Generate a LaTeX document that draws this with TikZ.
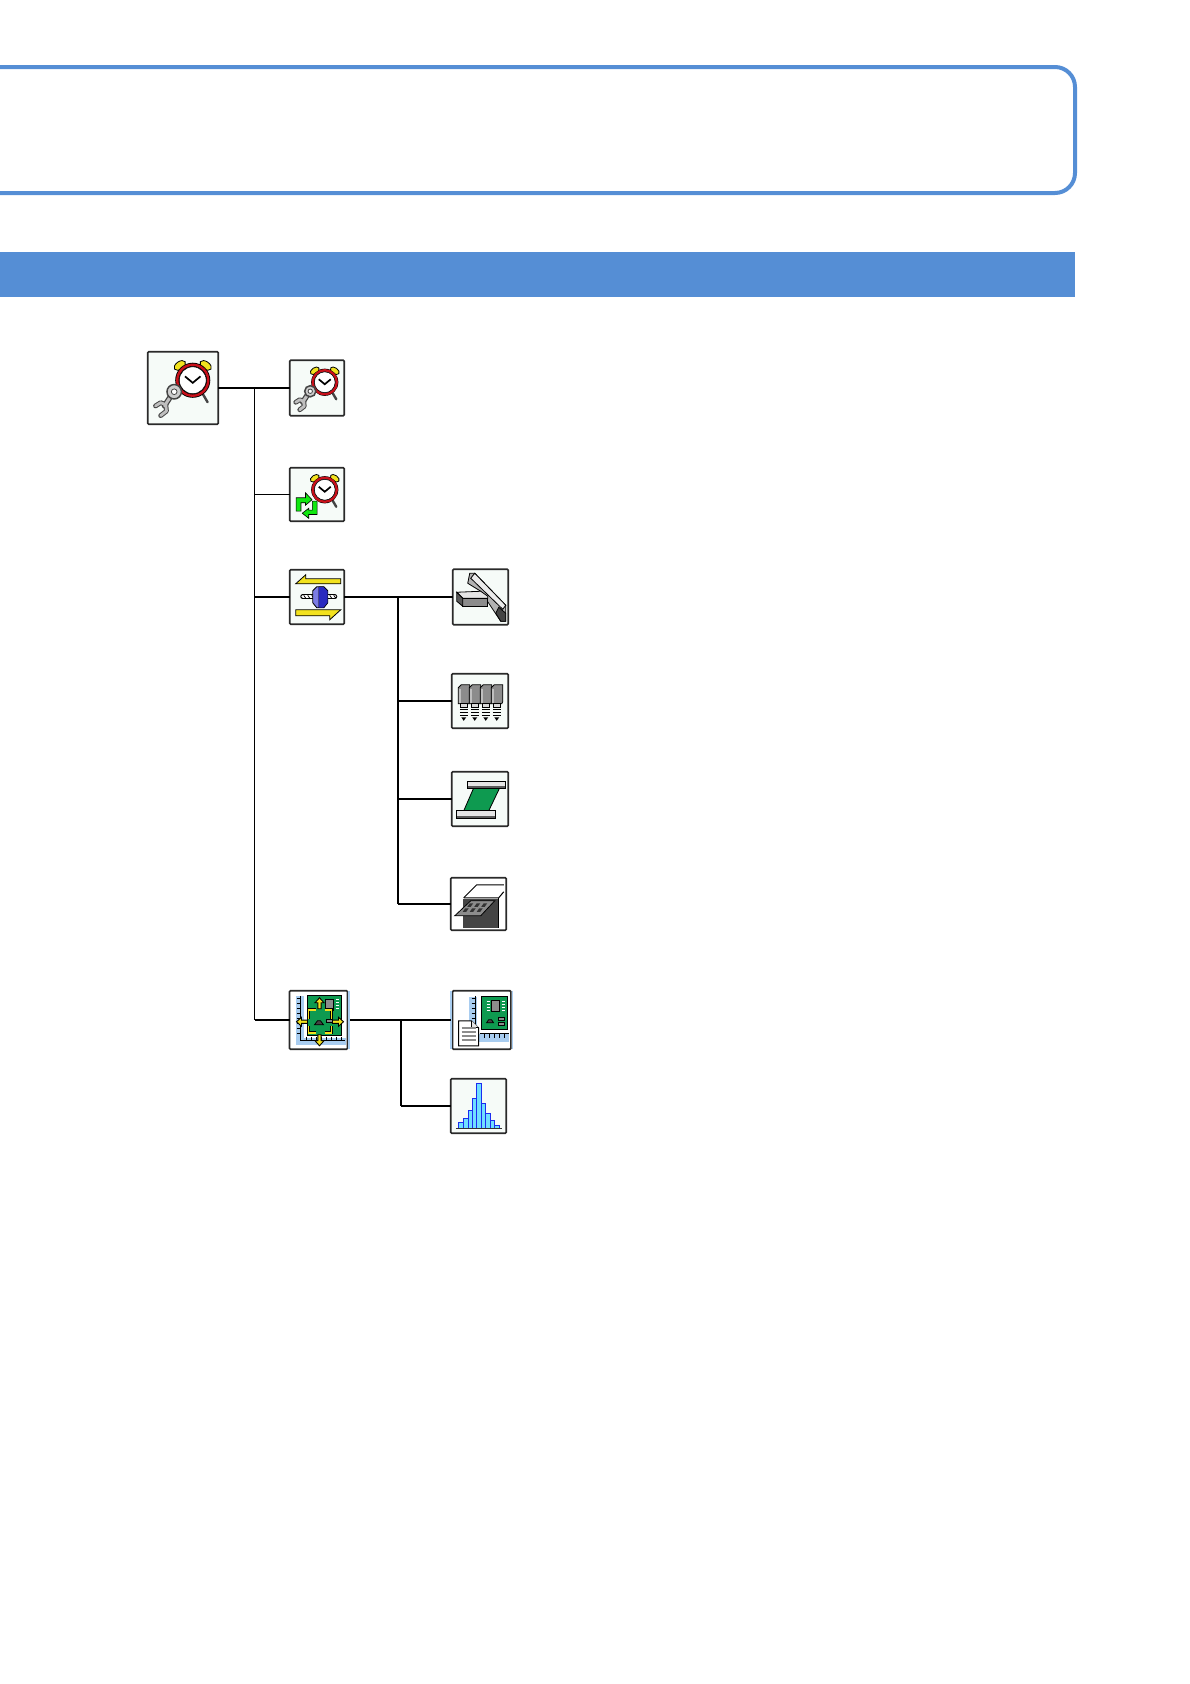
\documentclass[tikz,border=0pt]{standalone}
\usetikzlibrary{arrows.meta,positioning}
\definecolor{headblue}{HTML}{558ED5}
\definecolor{iconbg}{HTML}{F6FBF8}
\definecolor{iconedge}{HTML}{2A2A2A}
\definecolor{clockred}{HTML}{C8101A}
\definecolor{bellyellow}{HTML}{F2E21E}
\definecolor{arrowgreen}{HTML}{10E810}
\definecolor{boardgreen}{HTML}{0E9A50}
\definecolor{nutblue}{HTML}{2A2AC0}
\definecolor{nutlight}{HTML}{7C7CE4}
\definecolor{rulerblue}{HTML}{A9CDF0}
\definecolor{metalgray}{HTML}{8C8C8C}
\definecolor{darkmetal}{HTML}{444444}
\definecolor{barcyan}{HTML}{70DFFF}
\definecolor{barblue}{HTML}{1C2CF0}
\tikzset{
  iconbox/.style={draw=iconedge,fill=iconbg,line width=1.7pt,rounded corners=1pt,inner sep=0pt,outer sep=0pt},
  connline/.style={draw=black,line width=1.3pt},
  busline/.style={draw=black,line width=1.8pt},
  inkline/.style={draw=black,line width=0.8pt},
  alarmclock/.pic={
    \draw[inkline,fill=bellyellow,shift={(-10,-11.5)},rotate=35] (0,0) ellipse (5 and 3);
    \draw[inkline,fill=bellyellow,shift={(10,-11.5)},rotate=-35] (0,0) ellipse (5 and 3);
    \draw[darkmetal,line width=2.4pt,line cap=round] (8,11) -- (11.5,17);
    \fill[black] (0,0) circle[radius=13.6];
    \draw[clockred,line width=2.4pt] (0,0) circle[radius=12];
    \draw[black,fill=white,line width=0.5pt] (0,0) circle[radius=10.4];
    \draw[black,line width=1.7pt] (-6,-3) -- (0,2) -- (6,-3);
  },
  wrench/.pic={
    \draw[darkmetal,line width=4.8pt,line cap=round,line join=round] (6,42) -- (10,39.5) -- (14,41) -- (14.5,46) -- (10,49.5);
    \draw[darkmetal,line width=5.5pt,line cap=round] (20,31) -- (13,42);
    \draw[black!25,line width=2.8pt,line cap=round,line join=round] (6,42) -- (10,39.5) -- (14,41) -- (14.5,46) -- (10,49.5);
    \draw[black!25,line width=3pt,line cap=round] (20,31) -- (13,42);
    \draw[darkmetal,fill=black!20,line width=1.5pt] (20.5,31) circle[radius=5.6];
    \draw[darkmetal,fill=white,line width=0.8pt] (20.5,31) circle[radius=2.2];
  },
  spinarrows/.pic={
    \draw[black,fill=arrowgreen,line width=0.6pt] (1.3,18.3) -- (1.3,5) -- (10.7,5) -- (10.7,0) -- (17.3,7) -- (10.7,12.5) -- (10.7,10) -- (6.2,10) -- (6.2,18.3) -- cycle;
    \draw[black,fill=arrowgreen,line width=0.6pt] (22.3,8.3) -- (22.3,21.7) -- (14,21.7) -- (14,25.6) -- (7.5,20.5) -- (14,15.5) -- (14,17.3) -- (17.6,17.3) -- (17.6,8.3) -- cycle;
  },
  yellowtip/.pic={
    \draw[black,fill=bellyellow,line width=0.9pt] (-1.6,0) -- (-1.6,-6) -- (-4.5,-6) -- (0,-11) -- (4.5,-6) -- (1.6,-6) -- (1.6,0) -- cycle;
  },
  miniboard/.pic={
    \fill[boardgreen] (0,0) rectangle (26,33);
    \draw[inkline] (0,0) rectangle (26,33);
    \draw[inkline,fill=metalgray] (10,4) rectangle (18,15);
    \foreach \ypos in {5,8,11,14} {
      \draw[white,line width=0.8pt] (20,\ypos) -- (23,\ypos);
      \draw[white,line width=0.8pt] (5,\ypos) -- (8,\ypos);
    }
    \draw[inkline,fill=darkmetal] (5,26) -- (7,23) -- (10,23) -- (12,26) -- cycle;
    \draw[inkline,fill=metalgray] (17,21) rectangle (23,24);
    \draw[inkline,fill=metalgray] (17,26) rectangle (23,29);
  },
  cropmark/.style={draw=black,line width=3.2pt},
  cropfill/.style={draw=bellyellow,line width=1.8pt}
}
\begin{document}
\begin{tikzpicture}[x=1pt,y=-1pt]
  \useasboundingbox (0,0) rectangle (1190,1684);
  \draw[headblue,line width=4pt,rounded corners=20pt] (-30,67) rectangle (1075,193);
  \fill[headblue] (-5,252) rectangle (1075,297);

  \node[iconbox,minimum width=70.5pt,minimum height=72.5pt] (root) at (183,388) {};
  \node[iconbox,minimum width=54.5pt,minimum height=55.5pt] (clockset) at (317,388) {};
  \node[iconbox,minimum width=54.5pt,minimum height=53.5pt] (clockcycle) at (317,494.5) {};
  \node[iconbox,minimum width=54.5pt,minimum height=54.5pt] (exchange) at (317,597) {};
  \node[iconbox,minimum width=55.5pt,minimum height=55.5pt] (railunit) at (480.5,597) {};
  \node[iconbox,minimum width=56.5pt,minimum height=54.5pt] (nozzles) at (480,701) {};
  \node[iconbox,minimum width=56.5pt,minimum height=54.5pt] (stencil) at (480,799) {};
  \node[iconbox,fill=white,minimum width=55.5pt,minimum height=52.5pt] (tray) at (478.5,904) {};
  \node[iconbox,fill=white,minimum width=58pt,minimum height=58.5pt] (layout) at (318.5,1020) {};
  \node[iconbox,fill=white,minimum width=58.3pt,minimum height=58.5pt] (report) at (481.7,1020) {};
  \node[iconbox,minimum width=55.5pt,minimum height=54.5pt] (histogram) at (478.5,1106) {};
  \draw[rulerblue,line width=1.5pt] ([xshift=1.6pt]layout.north east) -- ([xshift=1.6pt]layout.south east);
  \draw[rulerblue,line width=1.5pt] ([xshift=-1.6pt]report.north west) -- ([xshift=-1.6pt]report.south west);
  \draw[rulerblue,line width=1.5pt] ([xshift=1.6pt]report.north east) -- ([xshift=1.6pt]report.south east);

  \coordinate (trunktop) at (254.5,388);
  \coordinate (trunkend) at (254.5,1020);
  \coordinate (bustop) at (398,597);
  \coordinate (busend) at (398,904);
  \coordinate (lowtop) at (401,1020);
  \coordinate (lowend) at (401,1106);
  \draw[connline,line width=1.7pt] (root) -- (clockset);
  \draw[connline] (trunktop) -- (trunkend);
  \draw[connline] (trunktop |- clockcycle) -- (clockcycle);
  \draw[connline,line width=1.1pt] (trunktop |- exchange) -- (exchange);
  \draw[connline] (trunkend) -- (layout);
  \draw[connline] (exchange) -- (bustop);
  \draw[connline,line width=1.1pt] (bustop) -- (railunit);
  \draw[busline] (bustop) -- (busend);
  \draw[connline] (bustop |- nozzles) -- (nozzles);
  \draw[connline] (bustop |- stencil) -- (stencil);
  \draw[connline] (busend) -- (tray);
  \draw[busline] ([xshift=2.5pt]layout.east) -- ([xshift=-2pt]report.west);
  \draw[connline] (lowtop) -- (lowend);
  \draw[connline] (lowend) -- (histogram);

  % clocks
  \begin{scope}[shift={(root.north west)}]
    \pic[scale=1.29] at (45,28.5) {alarmclock};
    \pic[scale=1.29] {wrench};
  \end{scope}
  \begin{scope}[shift={(clockset.north west)}]
    \pic at (35,22) {alarmclock};
    \pic {wrench};
  \end{scope}
  \begin{scope}[shift={(clockcycle.north west)}]
    \pic at (35,22) {alarmclock};
    \pic at (5,25) {spinarrows};
  \end{scope}

  % exchange
  \begin{scope}[shift={(exchange.north west)}]
    \draw[inkline,fill=bellyellow] (51,9) -- (51,14) -- (6,14) -- (16,5) -- (16,9) -- cycle;
    \draw[inkline,fill=bellyellow] (6,40) -- (40,40) -- (51,40) -- (40,50) -- (40,46) -- (6,46) -- cycle;
    \draw[black,line width=5pt,line cap=round] (13,27) -- (45,27);
    \draw[white,line width=3pt,line cap=round] (13,27) -- (45,27);
    \foreach \xpos in {14,18,22,36,40,44} \draw[black,line width=0.7pt] (\xpos,25.5) -- (\xpos+2,28.5);
    \draw[inkline,fill=nutlight] (23,21) -- (27,17) -- (34,17) -- (38,21) -- (38,33) -- (34,38) -- (27,38) -- (23,33) -- cycle;
    \draw[black,fill=nutblue,line width=0.4pt] (29,17) -- (34,17) -- (38,21) -- (38,33) -- (34,38) -- (29,38) -- cycle;
  \end{scope}

  % rail and block
  \begin{scope}[shift={(railunit.north west)}]
    \draw[inkline,fill=black!30] (17,4) -- (22,4) -- (53,36) -- (53,52) -- (48,52) -- (38,37) -- (28,22) -- (15,14) -- cycle;
    \draw[inkline,fill=black!8] (22,4) -- (53,36) -- (50,40) -- (18,9) -- cycle;
    \draw[inkline,fill=darkmetal] (46,38) -- (53,44) -- (53,52) -- (48,52) -- (43,44) -- cycle;
    \draw[inkline,fill=black!10] (4,23) -- (28,22) -- (35,27) -- (35,29) -- (10,29) -- cycle;
    \draw[inkline,fill=black!45] (10,29) rectangle (35,37);
    \draw[inkline,fill=black!65] (4,23) -- (10,29) -- (10,37) -- (4,32) -- cycle;
  \end{scope}

  % nozzle head
  \begin{scope}[shift={(nozzles.north west)}]
    \foreach \xpos in {12,23,34,45} {
      \draw[inkline,fill=metalgray] (\xpos-5.5,14) -- (\xpos-2.5,11) -- (\xpos+6,11) -- (\xpos+6,28) -- (\xpos+5,30) -- (\xpos-5.5,30) -- cycle;
      \fill[black!25] (\xpos-5,15) rectangle (\xpos-2.5,29.5);
      \draw[inkline,fill=black!15] (\xpos-3.5,30) rectangle (\xpos+3.5,34);
      \foreach \ypos in {36,39,42} \draw[black,line width=1.3pt] (\xpos-4,\ypos) -- (\xpos+4,\ypos);
      \fill[black] (\xpos-2.5,43.5) -- (\xpos+2.5,43.5) -- (\xpos,47) -- cycle;
    }
  \end{scope}

  % stencil
  \begin{scope}[shift={(stencil.north west)}]
    \draw[inkline,fill=boardgreen] (22,16) -- (48,16) -- (37,39) -- (12,39) -- cycle;
    \draw[inkline,fill=black!10] (16,10) rectangle (54,17);
    \draw[black!65,line width=2pt] (16.5,15.6) -- (53.5,15.6);
    \draw[inkline,fill=black!10] (5,39) rectangle (44,47);
    \draw[black!65,line width=2pt] (5.5,45.5) -- (43.5,45.5);
  \end{scope}

  % tray
  \begin{scope}[shift={(tray.north west)}]
    \fill[darkmetal] (12,21) rectangle (48,50);
    \draw[inkline,line width=1pt] (13,20) -- (26,7) -- (53,7);
    \draw[inkline,line width=1pt] (13,20) -- (48,20) -- (53,14);
    \draw[black,line width=1pt] (48,20) -- (48,50);
    \draw[inkline,fill=metalgray] (4,38) -- (20,23) -- (44,23) -- (30,38) -- cycle;
    \foreach \xpos in {19,26,33}{
      \foreach \rowa in {0,1} \fill[black!80] (\xpos-\rowa*4.5,25.5+\rowa*5) -- (\xpos+3.5-\rowa*4.5,25.5+\rowa*5) -- (\xpos+1-\rowa*4.5,29+\rowa*5) -- (\xpos-2.5-\rowa*4.5,29+\rowa*5) -- cycle;
    }
  \end{scope}

  % layout
  \begin{scope}[shift={(layout.north west)}]
    \fill[rulerblue] (6,5) rectangle (14,54);
    \fill[rulerblue] (6,47) rectangle (56,54);
    \draw[black,line width=1pt] (11,5) -- (11,50) -- (55,50);
    \foreach \ypos in {8,13,...,43} \draw[black,line width=0.9pt] (7,\ypos) -- (11,\ypos);
    \foreach \xpos in {17,22,...,52} \draw[black,line width=0.9pt] (\xpos,46) -- (\xpos,50);
    \draw[black,fill=boardgreen,line width=1pt] (18,5) rectangle (52,45);
    \draw[inkline,fill=metalgray] (36,9) rectangle (44,20);
    \foreach \ypos in {9,12,15,18} \draw[white,line width=0.8pt] (46,\ypos) -- (49,\ypos);
    \draw[inkline,fill=darkmetal] (25,34) -- (28,30) -- (31,30) -- (34,34) -- cycle;
    \draw[inkline,fill=metalgray] (37,29) rectangle (43,32);
    \foreach \framestyle in {cropmark,cropfill} {
      \draw[\framestyle] (19,28) -- (19,19) -- (26,19);
      \draw[\framestyle] (35,19) -- (42,19) -- (42,28);
      \draw[\framestyle] (19,35) -- (19,42) -- (26,42);
      \draw[\framestyle] (35,42) -- (42,42) -- (42,35);
    }
    \pic at (30,18) {yellowtip};
    \pic[rotate=180] at (30,44) {yellowtip};
    \pic[rotate=90] at (18,31) {yellowtip};
    \pic[rotate=-90] at (43,31) {yellowtip};
  \end{scope}

  % report
  \begin{scope}[shift={(report.north west)}]
    \fill[rulerblue] (16,6) rectangle (24,44);
    \fill[rulerblue] (24,43) rectangle (56,51);
    \draw[black,line width=1pt] (23,5) -- (23,35);
    \draw[black,line width=1pt] (27,43) -- (56,43);
    \foreach \ypos in {8,13,...,33} \draw[black,line width=0.9pt] (19,\ypos) -- (23,\ypos);
    \foreach \xpos in {32,37,...,52} \draw[black,line width=0.9pt] (\xpos,43) -- (\xpos,47);
    \pic at (29,6) {miniboard};
    \draw[inkline,line width=1pt,fill=white] (6,30) -- (19,30) -- (26,37) -- (26,55) -- (6,55) -- cycle;
    \draw[inkline,fill=black!10] (19,30) -- (19,37) -- (26,37);
    \foreach \ypos in {37,41,45,49} \draw[metalgray,line width=1.8pt] (9,\ypos) -- (23,\ypos);
  \end{scope}

  % bars
  \begin{scope}[shift={(histogram.north west)}]
    \foreach \xa/\xb/\ytop in {8/13/44,13/18/40,18/22/32,22/26/20,26/31/5,31/35/25,35/40/35,40/44/42,44/49/47} {
      \draw[barblue,fill=barcyan,line width=1pt] (\xa,50) rectangle (\xb,\ytop);
    }
    \draw[black!80,line width=1.2pt] (5,50) -- (51,50);
  \end{scope}
\end{tikzpicture}
\end{document}
